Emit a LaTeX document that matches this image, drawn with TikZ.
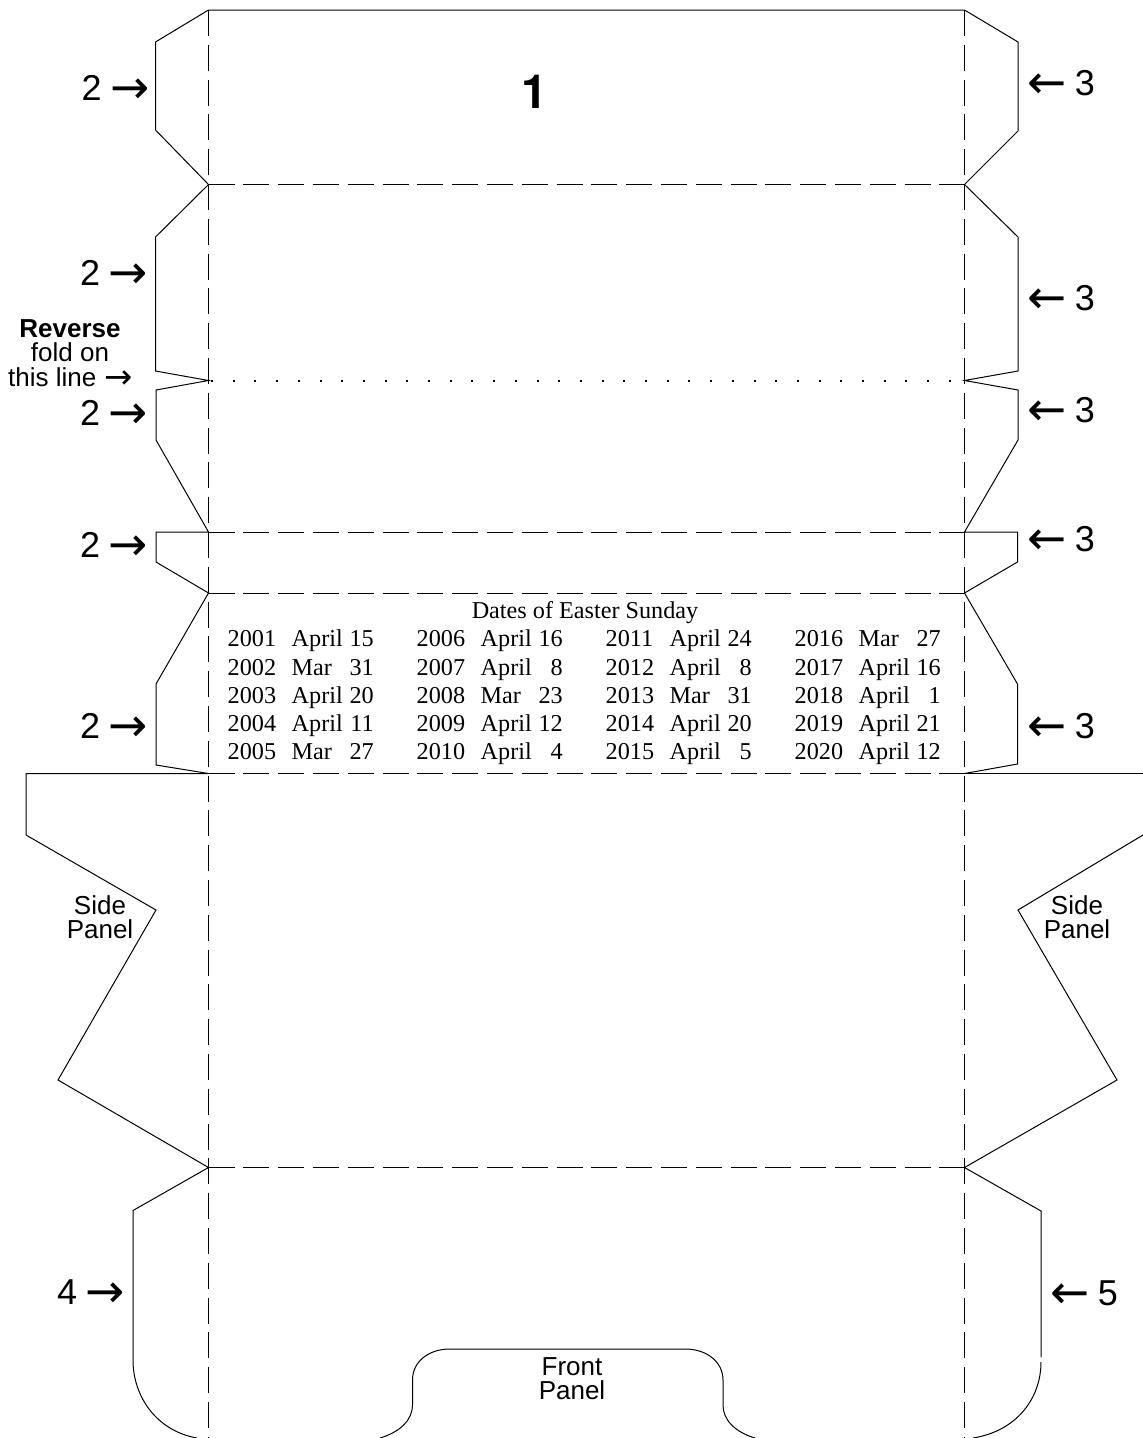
\documentclass[tikz,border=0pt]{standalone}
\usepackage{fontspec}
\usepackage{array}
\setmainfont{Liberation Sans}
\newfontfamily\timesfont{Liberation Serif}
\newfontfamily\arrowfont{DejaVu Sans}
\newfontfamily\herosfont{TeX Gyre Heros}
\tikzset{
  cut/.style={line width=1pt},
  fold/.style={line width=1pt,dash pattern=on 26pt off 8.8pt},
  rev/.style={line width=2pt,dash pattern=on 2pt off 19.7pt},
  num/.style={anchor=base west,inner sep=0,font=\fontsize{36}{36}\selectfont},
  lab/.style={anchor=base,inner sep=0,font=\fontsize{26}{26}\selectfont},
  datecol/.style={anchor=north west,inner sep=0,font=\timesfont\fontsize{24.2}{28.2}\selectfont}
}
\newcolumntype{Y}{>{\raggedleft\arraybackslash}p{32pt}}
\newcommand{\rarr}{{\arrowfont\raisebox{-.1em}{\scalebox{1.3}{→}}}}
\newcommand{\larr}{{\arrowfont\raisebox{-.1em}{\scalebox{1.3}{←}}}}
\begin{document}
\begin{tikzpicture}[x=1pt,y=-1pt]
\useasboundingbox (0,0) rectangle (1143,1438);

\coordinate (l0) at (208.5,10);
\coordinate (l1) at (208.5,184.5);
\coordinate (l2) at (208.5,380.5);
\coordinate (l3) at (208.5,532);
\coordinate (l4) at (208.5,593);
\coordinate (l5) at (208.5,773.5);
\coordinate (l6) at (208.5,1167.5);
\coordinate (l7) at (208.5,1438);
\coordinate (r0) at (964.5,10);
\coordinate (r1) at (964.5,184.5);
\coordinate (r2) at (964.5,380.5);
\coordinate (r3) at (964.5,532);
\coordinate (r4) at (964.5,593);
\coordinate (r5) at (964.5,773.5);
\coordinate (r6) at (964.5,1167.5);
\coordinate (r7) at (964.5,1438);

% fold lines
\draw[fold] (l0) -- (l7);
\draw[fold] (r0) -- (r7);
\draw[fold] (l1) -- (r1);
\draw[fold] (l3) -- (r3);
\draw[fold] (l4) -- (r4);
\draw[fold] (l5) -- (r5);
\draw[fold] (l6) -- (r6);
\draw[rev] (211,380.5) -- (r2);

% left flaps
\draw[cut] (r0) -- (l0) -- (155.5,42) -- (155.5,130) -- (l1) -- (155.5,237) -- (155.5,371) -- (l2)
  -- (156,390) -- (156,440) -- (l3) -- (156,532) -- (156,562) -- (l4) -- (156,684) -- (156,765) -- (l5);
\draw[cut] (l5) -- (26,773.5) -- (26,835) -- (156,910) -- (58,1080) -- (l6) -- (133,1210.5) -- (133,1360)
  .. controls (133,1397) and (157,1431) .. (197,1438);

% right flaps
\draw[cut] (r0) -- (1018,42) -- (1018,131) -- (r1) -- (1018,237) -- (1018,371) -- (r2)
  -- (1018,390) -- (1018,440) -- (r3) -- (1017.5,532) -- (1017.5,562) -- (r4) -- (1017.5,684) -- (1017.5,764) -- (r5);
\draw[cut] (r5) -- (1143,773.5);
\draw[cut] (1143,835) -- (1018,910) -- (1117,1080) -- (r6) -- (1041,1211) -- (1041,1357);
\draw[cut] (1041,1362) .. controls (1041,1398) and (1017,1431) .. (973,1438);

% front panel notch
\draw[cut] (380,1438) .. controls (400,1432) and (412.5,1420) .. (412.5,1405) -- (412.5,1380)
  .. controls (412.5,1362) and (428,1349) .. (450,1349) -- (685,1349)
  .. controls (707,1349) and (723,1362) .. (723,1380) -- (723,1405)
  .. controls (723,1420) and (735,1432) .. (755,1438);

% flap numbers
\node[num,font=\herosfont\bfseries\fontsize{47}{47}\selectfont,anchor=base] (n1) at (535,108) {1};
\node[num] (a1) at (81.5,100) {2\kern 8.7pt\rarr};
\node[num] (a2) at (80,285) {2\kern 8.7pt\rarr};
\node[num] (a3) at (80,425) {2\kern 8.7pt\rarr};
\node[num] (a4) at (80,557) {2\kern 8.7pt\rarr};
\node[num] (a5) at (80,738) {2\kern 8.7pt\rarr};
\node[num] (b1) at (1027,95) {\larr\kern 8.5pt 3};
\node[num] (b2) at (1027,310) {\larr\kern 8.5pt 3};
\node[num] (b3) at (1027,422) {\larr\kern 8.5pt 3};
\node[num] (b4) at (1027,551) {\larr\kern 8.5pt 3};
\node[num] (b5) at (1027,738) {\larr\kern 8.5pt 3};
\node[num] (c4) at (57,1304) {4\kern 8.7pt\rarr};
\node[num] (c5) at (1050,1305) {\larr\kern 8.5pt 5};

% reverse fold label
\node[lab,font=\bfseries\fontsize{26}{26}\selectfont] (rv1) at (70,337) {Reverse};
\node[lab] (rv2) at (70,361.5) {fold on};
\node[lab,anchor=base west] (rv3) at (8,386) {this line\kern 8pt\rarr};

% panels
\node[lab] (s1) at (100,914) {Side};
\node[lab] (s2) at (100,938) {Panel};
\node[lab] (s3) at (1077,914) {Side};
\node[lab] (s4) at (1077,938) {Panel};
\node[lab] (f1) at (572,1375) {Front};
\node[lab] (f2) at (572,1399) {Panel};

% dates
\node[anchor=base,inner sep=0,font=\timesfont\fontsize{24.2}{28.2}\selectfont] (title) at (585,618) {Dates of Easter Sunday};
\node[datecol] (d1) at (227.5,627) {\begin{tabular}{@{}p{64pt}@{}p{50pt}@{}Y@{}}
2001&April&15\\ 2002&Mar&31\\ 2003&April&20\\ 2004&April&11\\ 2005&Mar&27\end{tabular}};
\node[datecol] (d2) at (416.5,627) {\begin{tabular}{@{}p{64pt}@{}p{50pt}@{}Y@{}}
2006&April&16\\ 2007&April&8\\ 2008&Mar&23\\ 2009&April&12\\ 2010&April&4\end{tabular}};
\node[datecol] (d3) at (605.5,627) {\begin{tabular}{@{}p{64pt}@{}p{50pt}@{}Y@{}}
2011&April&24\\ 2012&April&8\\ 2013&Mar&31\\ 2014&April&20\\ 2015&April&5\end{tabular}};
\node[datecol] (d4) at (794.5,627) {\begin{tabular}{@{}p{64pt}@{}p{50pt}@{}Y@{}}
2016&Mar&27\\ 2017&April&16\\ 2018&April&1\\ 2019&April&21\\ 2020&April&12\end{tabular}};

\end{tikzpicture}
\end{document}
